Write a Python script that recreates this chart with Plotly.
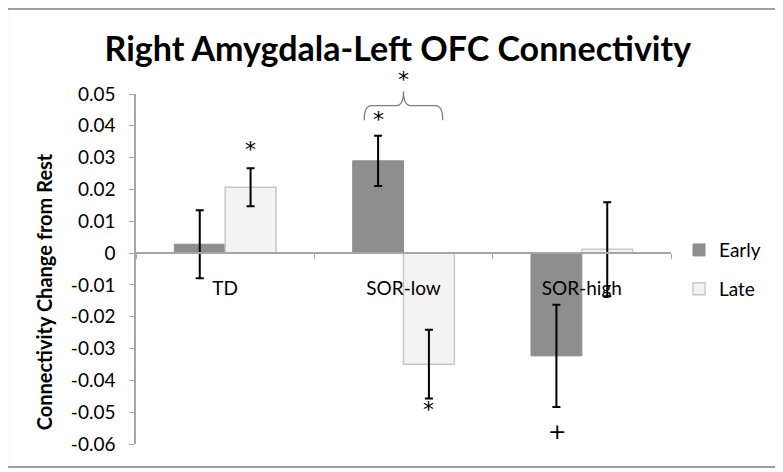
import plotly.graph_objects as go

# data
groups = ['TD', 'SOR-low', 'SOR-high']
early = [0.0028, 0.0290, -0.0323]
early_se = [0.0107, 0.0079, 0.0161]
late = [0.0207, -0.0349, 0.0012]
late_se = [0.0060, 0.0108, 0.0148]

y_ticks = [0.05, 0.04, 0.03, 0.02, 0.01, 0, -0.01, -0.02, -0.03, -0.04, -0.05, -0.06]
y_labels = ['0.05', '0.04', '0.03', '0.02', '0.01', '0', '-0.01', '-0.02', '-0.03', '-0.04', '-0.05', '-0.06']
y_range = [-0.06, 0.05]

FONT = 'Lato'
AXIS_GREY = '#a6a6a6'

fig = go.Figure()
fig.add_trace(go.Bar(
    x=groups, y=early, name='Early',
    marker=dict(color='#8e8e8e', line=dict(color='#8e8e8e', width=1)),
    error_y=dict(type='data', array=early_se, color='black', thickness=2, width=4),
    legend='legend',
))
fig.add_trace(go.Bar(
    x=groups, y=late, name='Late',
    marker=dict(color='#f3f3f3', line=dict(color='#c8c8c8', width=1.5)),
    error_y=dict(type='data', array=late_se, color='black', thickness=2, width=4),
    legend='legend2',
))

# significance markers (group index +/- bar offset, value)
off = 0.142
marks = [
    ('*', 0 + off, 0.0325),
    ('*', 1 - off, 0.0420),
    ('*', 1 + off, -0.0490),
    ('+', 2 - off, -0.0560),
]
for txt, xx, yy in marks:
    fig.add_annotation(x=xx, y=yy, text=txt, showarrow=False,
                       font=dict(family='DejaVu Sans', size=22, color='black'))
fig.add_annotation(x=1, y=1.082, yref='paper', text='*', showarrow=False,
                   font=dict(family='DejaVu Sans', size=22, color='black'))

# curly bracket over SOR-low
fig.add_shape(type='path', xref='x', yref='paper',
              path='M 0.78 0.925 Q 0.78 0.967 0.82 0.967 L 0.96 0.967 Q 1.0 0.967 1.0 1.007'
                   ' Q 1.0 0.967 1.04 0.967 L 1.18 0.967 Q 1.22 0.967 1.22 0.925',
              line=dict(color='#7f7f7f', width=1.3))

# y axis title
fig.add_annotation(x=-0.1727, y=0.435, xref='paper', yref='paper', xanchor='center', yanchor='middle',
                   text='<b>Connectivity Change from Rest</b>',
                   textangle=-90, showarrow=False, font=dict(family=FONT, size=20, color='black'))

# outer border
fig.add_shape(type='rect', xref='paper', yref='paper', x0=-0.241, x1=1.2182, y0=-0.0657, y1=1.243,
              line=dict(color='#a0a0a0', width=2))

zero_pos = (0 - y_range[0]) / (y_range[1] - y_range[0])

fig.update_layout(
    width=775, height=464,
    margin=dict(l=128, r=112, t=86, b=28, autoexpand=False),
    paper_bgcolor='white', plot_bgcolor='white',
    barmode='group', bargap=0.43, bargroupgap=0,
    showlegend=True,
    font=dict(family=FONT, size=19, color='black'),
    title=dict(text='<b>Right Amygdala-Left OFC Connectivity</b>', x=0.503, y=0.912,
               xanchor='center', yanchor='middle', font=dict(family=FONT, size=34, color='black')),
    xaxis=dict(anchor='free', position=zero_pos, showline=True, linecolor=AXIS_GREY, linewidth=1.5,
               ticks='outside', ticklen=5, tickcolor=AXIS_GREY, tickson='boundaries',
               ticklabelstandoff=18, showgrid=False, zeroline=False),
    yaxis=dict(range=y_range, tickvals=y_ticks, ticktext=y_labels, showline=True, linecolor=AXIS_GREY,
               linewidth=1.5, ticks='outside', ticklen=5, tickcolor=AXIS_GREY, showgrid=False,
               zeroline=False, ticklabelstandoff=10),
    legend=dict(x=1.015, y=0.554, xanchor='left', yanchor='middle', font=dict(size=19), itemwidth=30),
    legend2=dict(x=1.015, y=0.443, xanchor='left', yanchor='middle', font=dict(size=19), itemwidth=30),
)

fig.write_html('out.html')
